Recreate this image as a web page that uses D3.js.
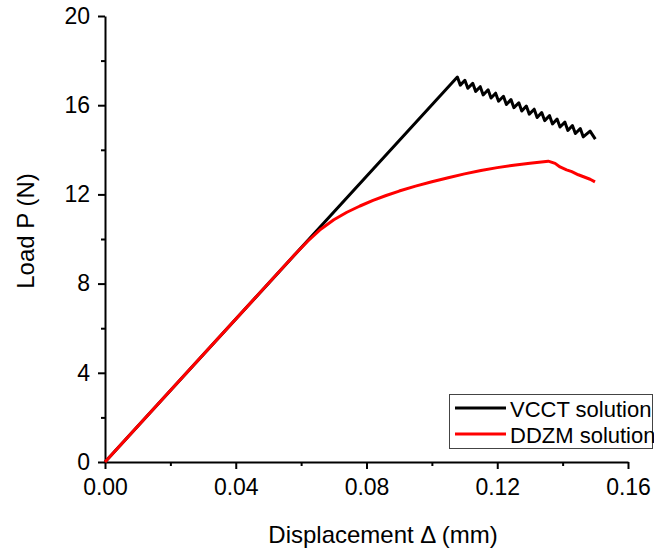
<!DOCTYPE html>
<html>
<head>
<meta charset="utf-8">
<script src="https://cdn.jsdelivr.net/npm/d3@7"></script>
<style>
  body { margin: 0; background: #fff; }
  svg { font-family: "Liberation Sans", Arial, sans-serif; }
  .axis path, .axis line { stroke: #000; stroke-width: 2; }
  .axis text { font-size: 23px; fill: #000; }
  .axis-title { font-size: 24px; fill: #000; }
  .legend text { font-size: 22px; fill: #000; }
</style>
</head>
<body>
<svg id="chart" width="654" height="548"></svg>
<script>
// VCCT solution: linear rise, then saw-tooth crack growth
const vcctX = [0, 0.1078,
  0.1087, 0.1101, 0.1110, 0.1125, 0.1134, 0.1148, 0.1157, 0.1172, 0.1181,
  0.1195, 0.1204, 0.1219, 0.1228, 0.1242, 0.1251, 0.1266, 0.1275, 0.1289,
  0.1298, 0.1313, 0.1322, 0.1336, 0.1345, 0.1360, 0.1369, 0.1383, 0.1392,
  0.1407, 0.1416, 0.1430, 0.1439, 0.1454, 0.1463, 0.1484, 0.1500];
const vcctP = [0, 17.26,
  16.90, 17.12, 16.76, 16.98, 16.62, 16.83, 16.46, 16.69, 16.32,
  16.54, 16.18, 16.40, 16.03, 16.25, 15.89, 16.11, 15.74, 15.96,
  15.60, 15.82, 15.45, 15.67, 15.31, 15.53, 15.16, 15.38, 15.02,
  15.24, 14.87, 15.09, 14.73, 14.95, 14.58, 14.84, 14.48];

// DDZM solution: smooth softening curve
const ddzmX = [0, 0.030, 0.058, 0.062, 0.066, 0.070, 0.074, 0.078, 0.082,
  0.086, 0.090, 0.095, 0.100, 0.105, 0.110, 0.115, 0.120, 0.125, 0.130,
  0.1356, 0.1377, 0.1392, 0.1412, 0.1428, 0.1448, 0.1468, 0.1484, 0.1499];
const ddzmP = [0, 4.81, 9.29, 9.90, 10.44, 10.86, 11.20, 11.48, 11.73,
  11.95, 12.15, 12.37, 12.57, 12.75, 12.92, 13.07, 13.20, 13.31, 13.40,
  13.49, 13.39, 13.23, 13.10, 13.02, 12.88, 12.77, 12.68, 12.56];

const xMajor = [0, 0.04, 0.08, 0.12, 0.16];
const xMinor = [0.02, 0.06, 0.10, 0.14];
const yMajor = [0, 4, 8, 12, 16, 20];
const yMinor = [2, 6, 10, 14, 18];

const seriesNames = ['VCCT solution', 'DDZM solution'];
const seriesColors = ['#000000', '#ff0000'];

const plot = { left: 105, right: 628, top: 16, bottom: 462 };

const xScale = d3.scaleLinear([0, 0.16], [plot.left, plot.right]);
const yScale = d3.scaleLinear([0, 20], [plot.bottom, plot.top]);

const svg = d3.select('#chart');

// Minor ticks first (no labels)
svg.append('g')
   .attr('class', 'axis')
   .attr('transform', `translate(0,${plot.bottom})`)
   .call(d3.axisBottom(xScale).tickValues(xMinor).tickSize(4).tickFormat(''))
   .call(g => g.select('.domain').remove());

svg.append('g')
   .attr('class', 'axis')
   .attr('transform', `translate(${plot.left},0)`)
   .call(d3.axisLeft(yScale).tickValues(yMinor).tickSize(4).tickFormat(''))
   .call(g => g.select('.domain').remove());

// Major axes
svg.append('g')
   .attr('class', 'axis x-axis')
   .attr('transform', `translate(0,${plot.bottom})`)
   .call(d3.axisBottom(xScale)
           .tickValues(xMajor)
           .tickSize(7)
           .tickSizeOuter(0)
           .tickPadding(6)
           .tickFormat(d3.format('.2f')))
   .call(g => g.selectAll('text').attr('dy', '0.85em'));

svg.append('g')
   .attr('class', 'axis y-axis')
   .attr('transform', `translate(${plot.left},0)`)
   .call(d3.axisLeft(yScale)
           .tickValues(yMajor)
           .tickSize(7)
           .tickSizeOuter(0)
           .tickPadding(8)
           .tickFormat(d3.format('d')));

// Axis titles
svg.append('text')
   .attr('class', 'axis-title')
   .attr('x', 383)
   .attr('y', 543)
   .attr('text-anchor', 'middle')
   .text('Displacement \u0394 (mm)');

svg.append('text')
   .attr('class', 'axis-title')
   .attr('text-anchor', 'middle')
   .attr('transform', 'translate(34,231) rotate(-90)')
   .text('Load P (N)');

// Curves
const line = d3.line()
               .x(d => xScale(d[0]))
               .y(d => yScale(d[1]));

const series = [
  d3.zip(vcctX, vcctP),
  d3.zip(ddzmX, ddzmP)
];

svg.append('g')
   .selectAll('path')
   .data(series)
   .join('path')
   .attr('d', line)
   .attr('fill', 'none')
   .attr('stroke', (d, i) => seriesColors[i])
   .attr('stroke-width', 3)
   .attr('stroke-linejoin', 'round');

// Legend
const legend = svg.append('g').attr('class', 'legend');

legend.append('rect')
      .attr('x', 449.5)
      .attr('y', 394.5)
      .attr('width', 203)
      .attr('height', 54)
      .attr('fill', '#fff')
      .attr('stroke', '#444')
      .attr('stroke-width', 1);

const rows = legend.selectAll('g.row')
                   .data(seriesNames)
                   .join('g')
                   .attr('class', 'row')
                   .attr('transform', (d, i) => `translate(0,${408 + i * 26})`);

rows.append('line')
    .attr('x1', 455)
    .attr('x2', 506)
    .attr('stroke', (d, i) => seriesColors[i])
    .attr('stroke-width', 3);

rows.append('text')
    .attr('x', 510)
    .attr('y', 8.5)
    .text(d => d);
</script>
</body>
</html>
